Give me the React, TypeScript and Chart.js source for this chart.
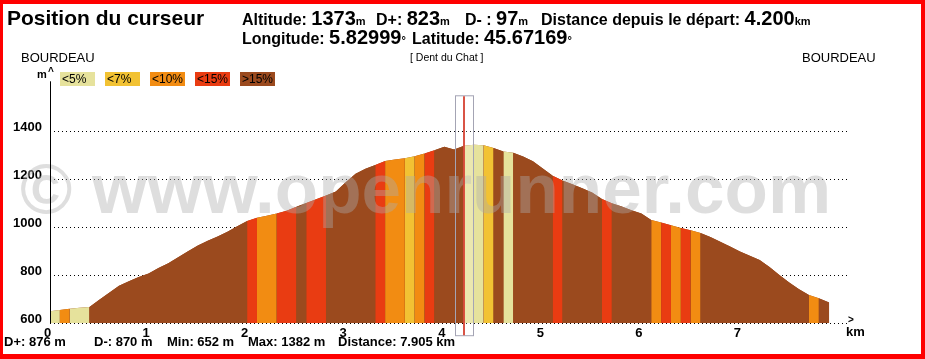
import React, { useEffect, useRef } from "react";
import { Chart, registerables } from "chart.js";

Chart.register(...registerables);

// ---------- DATA ----------
const distancesKm = [
  0, 0.1, 0.2, 0.3, 0.4, 0.5, 0.6, 0.7, 0.8, 0.9,
  1.0, 1.1, 1.2, 1.3, 1.4, 1.5, 1.6, 1.7, 1.8, 1.9,
  2.0, 2.1, 2.2, 2.3, 2.4, 2.5, 2.6, 2.7, 2.8, 2.9,
  3.0, 3.1, 3.2, 3.3, 3.4, 3.5, 3.6, 3.7, 3.8, 3.9,
  4.0, 4.1, 4.2, 4.3, 4.4, 4.5, 4.6, 4.7, 4.8, 4.9,
  5.0, 5.1, 5.2, 5.3, 5.4, 5.5, 5.6, 5.7, 5.8, 5.9,
  6.0, 6.1, 6.2, 6.3, 6.4, 6.5, 6.6, 6.7, 6.8, 6.9,
  7.0, 7.1, 7.2, 7.3, 7.4, 7.5, 7.6, 7.7, 7.8, 7.905,
];

const elevationsM = [
  650, 655, 660, 664, 668, 698, 727, 756, 775, 793,
  808, 830, 850, 875, 900, 924, 944, 962, 982, 1005,
  1027, 1040, 1049, 1058, 1070, 1086, 1102, 1118, 1133, 1150,
  1188, 1224, 1245, 1261, 1277, 1284, 1289, 1297, 1309, 1322,
  1337, 1325, 1341, 1345, 1343, 1331, 1317, 1312, 1296, 1276,
  1246, 1216, 1196, 1180, 1163, 1146, 1119, 1101, 1087, 1072,
  1058, 1031, 1020, 1009, 998, 988, 977, 960, 940, 920,
  899, 882, 864, 835, 801, 770, 742, 718, 704, 686,
];

// slope class of each 0.1 km segment: 0 <5%, 1 <7%, 2 <10%, 3 <15%, 4 >15%
const segmentClass = [
  0, 2, 0, 0, 4, 4, 4, 4, 4, 4,
  4, 4, 4, 4, 4, 4, 4, 4, 4, 4,
  3, 2, 2, 3, 3, 4, 3, 3, 4, 4,
  4, 4, 4, 3, 2, 2, 1, 2, 3, 4,
  4, 4, 0, 0, 1, 4, 0, 4, 4, 4,
  4, 3, 4, 4, 4, 4, 3, 4, 4, 4,
  4, 2, 3, 2, 3, 2, 4, 4, 4, 4,
  4, 4, 4, 4, 4, 4, 4, 2, 4,
];

const slopeLabels = ["<5%", "<7%", "<10%", "<15%", ">15%"];
const slopeColors = ["#E6E29C", "#F2C233", "#F28C12", "#E93C12", "#9B4A1E"];

const xTickValues = [0, 1, 2, 3, 4, 5, 6, 7];
const yTickValues = [600, 800, 1000, 1200, 1400];

const cursorKm = 4.2;

const headerLine1 = [
  { label: "Altitude: ", value: "1373", unit: "m" },
  { label: "D+: ", value: "823", unit: "m" },
  { label: "D- : ", value: "97", unit: "m" },
  { label: "Distance depuis le départ: ", value: "4.200", unit: "km" },
];
const headerLine2 = [
  { label: "Longitude: ", value: "5.82999", unit: "°" },
  { label: "Latitude: ", value: "45.67169", unit: "°" },
];
const line1Lefts = [242, 376, 465, 541];
const line2Lefts = [242, 412];

const footerStats = ["D+: 876 m", "D-: 870 m", "Min: 652 m", "Max: 1382 m", "Distance: 7.905 km"];
const footerLefts = [4, 94, 167, 248, 338];

const FONT = "'Liberation Sans', Arial, Helvetica, sans-serif";

export default function App() {
  const canvasRef = useRef<HTMLCanvasElement>(null);

  useEffect(() => {
    document.body.style.margin = "0";
    const canvas = canvasRef.current;
    if (!canvas) return;

    const overlay = {
      id: "overlay",
      afterDatasetsDraw(chart: any) {
        const { ctx, chartArea, scales } = chart;
        ctx.save();
        // watermark
        ctx.font = `bold 71px ${FONT}`;
        ctx.fillStyle = "rgba(172,172,172,0.4)";
        ctx.textBaseline = "alphabetic";
        ctx.textAlign = "left";
        ctx.fillText("© www.openrunner.com", 20, 213);
        // y axis line
        ctx.strokeStyle = "#000";
        ctx.lineWidth = 1;
        ctx.beginPath();
        ctx.moveTo(chartArea.left + 0.5, chartArea.top);
        ctx.lineTo(chartArea.left + 0.5, chartArea.bottom);
        ctx.stroke();
        // cursor
        const cx = Math.round(scales.x.getPixelForValue(cursorKm));
        const top = chartArea.top + 14;
        const bottom = chartArea.bottom + 12;
        ctx.fillStyle = "rgba(255,255,255,0.2)";
        ctx.fillRect(cx + 1, top, 8, bottom - top);
        ctx.strokeStyle = "#A4A4B4";
        ctx.lineWidth = 1;
        ctx.strokeRect(cx - 8.5, top + 0.5, 18, bottom - top);
        ctx.strokeStyle = "rgba(215,75,60,0.95)";
        ctx.lineWidth = 2;
        ctx.beginPath();
        ctx.moveTo(cx, top + 1);
        ctx.lineTo(cx, bottom);
        ctx.stroke();
        ctx.restore();
      },
    };

    const tickFont = { family: FONT, size: 13, weight: "bold" as const };
    const points = distancesKm.map((x, i) => ({ x, y: elevationsM[i] }));

    const chart = new Chart(canvas, {
      type: "line",
      data: {
        datasets: [
          {
            order: 0,
            data: points,
            fill: "start",
            backgroundColor: slopeColors[4],
            borderColor: "rgba(0,0,0,0)",
            borderWidth: 0,
            pointRadius: 0,
            tension: 0,
            segment: {
              backgroundColor: (c: any) => slopeColors[segmentClass[c.p0DataIndex]],
            },
          },
          {
            // plain underlay so the stripe joins show no white seams
            order: 1,
            data: points,
            fill: "start",
            backgroundColor: slopeColors[4],
            borderColor: "rgba(0,0,0,0)",
            borderWidth: 0,
            pointRadius: 0,
            tension: 0,
          },
        ],
      },
      options: {
        animation: false,
        responsive: false,
        maintainAspectRatio: false,
        events: [],
        layout: { padding: { left: 0, top: 81.3, right: 76.6, bottom: 15.8 } },
        plugins: { legend: { display: false }, tooltip: { enabled: false } },
        scales: {
          x: {
            type: "linear",
            min: 0,
            max: 8.1,
            afterBuildTicks: (s: any) => {
              s.ticks = xTickValues.map((v) => ({ value: v }));
            },
            afterFit: (s: any) => {
              s.height = 20;
            },
            grid: { display: false, drawTicks: false },
            border: { display: false },
            ticks: {
              padding: 2,
              labelOffset: -2.5,
              font: tickFont,
              color: "#000",
              maxRotation: 0,
              autoSkip: false,
              callback: (v: any) => String(v),
            },
          },
          y: {
            type: "linear",
            min: 600,
            max: 1610,
            afterBuildTicks: (s: any) => {
              s.ticks = yTickValues.map((v) => ({ value: v }));
            },
            afterFit: (s: any) => {
              s.width = 50;
            },
            grid: { color: "#000", lineWidth: 1, drawTicks: false },
            border: { display: false, dash: [1, 3] },
            ticks: {
              padding: 8,
              labelOffset: -4,
              font: tickFont,
              color: "#000",
              autoSkip: false,
              callback: (v: any) => String(v),
            },
          },
        },
      },
      plugins: [overlay],
    } as any);

    return () => chart.destroy();
  }, []);

  const abs = (left: number, top: number, extra: any = {}) => ({
    position: "absolute" as const,
    left,
    top,
    whiteSpace: "nowrap" as const,
    fontFamily: FONT,
    color: "#000",
    ...extra,
  });

  const renderGroup = (g: any, left: number, top: number, key: number) => (
    <div key={key} style={abs(left, top, { fontSize: 20, lineHeight: "20px", fontWeight: "bold" })}>
      <span style={{ fontSize: 16 }}>{g.label}</span>
      <span style={{ fontSize: 20 }}>{g.value}</span>
      <span style={{ fontSize: 11 }}>{g.unit}</span>
    </div>
  );

  return (
    <div style={{ position: "relative", width: 925, height: 359, background: "#fff", overflow: "hidden" }}>
      <canvas
        ref={canvasRef}
        width={925}
        height={359}
        style={{ position: "absolute", left: 0, top: 0, width: 925, height: 359 }}
      />
      <div
        style={{
          position: "absolute",
          left: 0,
          top: 0,
          width: 925,
          height: 359,
          boxSizing: "border-box",
          borderStyle: "solid",
          borderColor: "#FF0000",
          borderWidth: "4px 4px 5px 3px",
          pointerEvents: "none",
        }}
      />
      <div style={abs(7, 7, { fontSize: 21, lineHeight: 1, fontWeight: "bold" })}>Position du curseur</div>
      {headerLine1.map((g, i) => renderGroup(g, line1Lefts[i], 8, i))}
      {headerLine2.map((g, i) => renderGroup(g, line2Lefts[i], 27, 10 + i))}

      <div style={abs(21, 51, { fontSize: 13, lineHeight: 1 })}>BOURDEAU</div>
      <div style={abs(410, 52, { fontSize: 10.5, lineHeight: 1 })}>[ Dent du Chat ]</div>
      <div style={abs(802, 51, { fontSize: 13, lineHeight: 1 })}>BOURDEAU</div>

      <div style={abs(37, 69, { fontSize: 11, lineHeight: 1, fontWeight: "bold" })}>m</div>
      <div style={abs(48, 67, { fontSize: 10, lineHeight: 1, fontWeight: "bold" })}>^</div>

      {slopeLabels.map((lab, i) => (
        <div
          key={lab}
          style={abs(60 + i * 45, 72, {
            width: 35,
            height: 14,
            background: slopeColors[i],
            fontSize: 12,
            lineHeight: "14px",
            paddingLeft: 2,
            boxSizing: "border-box",
            overflow: "hidden",
          })}
        >
          {lab}
        </div>
      ))}

      <div style={abs(848, 315, { fontSize: 10, lineHeight: 1, fontWeight: "bold" })}>&gt;</div>
      <div style={abs(846, 325, { fontSize: 13, lineHeight: 1, fontWeight: "bold" })}>km</div>

      {footerStats.map((t, i) => (
        <div key={t} style={abs(footerLefts[i], 335, { fontSize: 13, lineHeight: 1, fontWeight: "bold" })}>
          {t}
        </div>
      ))}
    </div>
  );
}
